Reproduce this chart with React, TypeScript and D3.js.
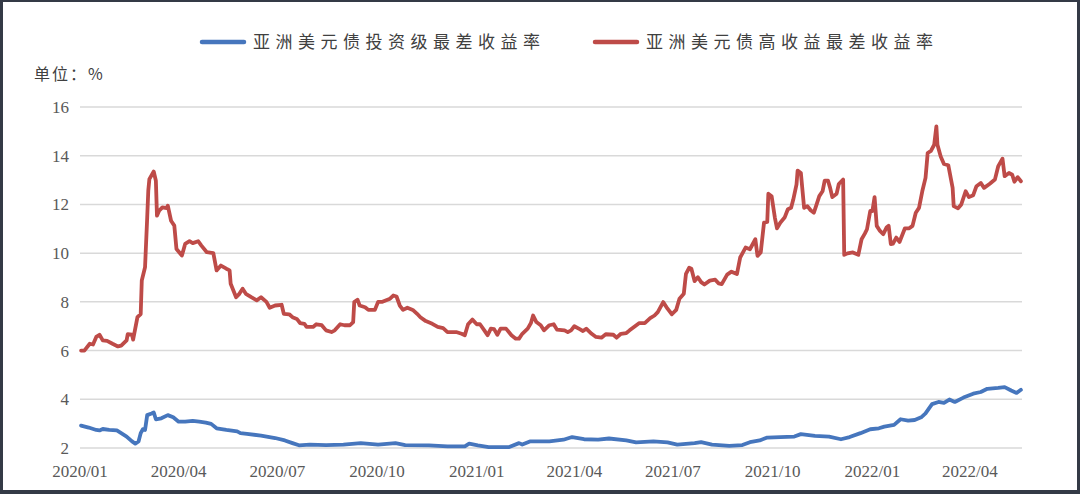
import React, { useEffect, useRef } from 'react';
import * as d3 from 'd3';

const legendLabels = ['亚洲美元债投资级最差收益率', '亚洲美元债高收益最差收益率'];
const seriesColors = ['#4676bd', '#be4b48'];
const unitLabel = '单位：%';
const yTicks = [2, 4, 6, 8, 10, 12, 14, 16];
const xTickDates = ['2020-01-01', '2020-04-01', '2020-07-01', '2020-10-01', '2021-01-01', '2021-04-01', '2021-07-01', '2021-10-01', '2022-01-01', '2022-04-01'];

// investment grade yield to worst (%)
const igSeries: [string, number][] = [
  ['2020-01-02', 2.92], ['2020-01-09', 2.84], ['2020-01-16', 2.74], ['2020-01-19', 2.72], ['2020-01-22', 2.78],
  ['2020-01-28', 2.74], ['2020-02-04', 2.72], ['2020-02-08', 2.61], ['2020-02-13', 2.47], ['2020-02-18', 2.27],
  ['2020-02-21', 2.18], ['2020-02-24', 2.27], ['2020-02-26', 2.61], ['2020-02-28', 2.77], ['2020-03-01', 2.74],
  ['2020-03-03', 3.35], ['2020-03-07', 3.42], ['2020-03-09', 3.46], ['2020-03-11', 3.18], ['2020-03-16', 3.22],
  ['2020-03-22', 3.35], ['2020-03-27', 3.26], ['2020-04-01', 3.08], ['2020-04-07', 3.08], ['2020-04-14', 3.11],
  ['2020-04-20', 3.08], ['2020-04-26', 3.04], ['2020-05-01', 2.99], ['2020-05-06', 2.81], ['2020-05-15', 2.74],
  ['2020-05-25', 2.68], ['2020-05-28', 2.61], ['2020-06-03', 2.58], ['2020-06-16', 2.51], ['2020-06-29', 2.41],
  ['2020-07-08', 2.31], ['2020-07-15', 2.2], ['2020-07-21', 2.11], ['2020-07-31', 2.14], ['2020-08-15', 2.12],
  ['2020-08-31', 2.14], ['2020-09-16', 2.2], ['2020-10-02', 2.14], ['2020-10-18', 2.2], ['2020-10-27', 2.12],
  ['2020-11-18', 2.11], ['2020-12-05', 2.07], ['2020-12-21', 2.07], ['2020-12-25', 2.18], ['2021-01-02', 2.11],
  ['2021-01-12', 2.04], ['2021-01-31', 2.04], ['2021-02-09', 2.2], ['2021-02-12', 2.14], ['2021-02-19', 2.27],
  ['2021-02-28', 2.27], ['2021-03-09', 2.27], ['2021-03-22', 2.34], ['2021-03-30', 2.45], ['2021-04-10', 2.36],
  ['2021-04-23', 2.34], ['2021-05-03', 2.39], ['2021-05-19', 2.31], ['2021-05-28', 2.23], ['2021-06-13', 2.27],
  ['2021-06-26', 2.23], ['2021-07-05', 2.14], ['2021-07-21', 2.2], ['2021-07-27', 2.24], ['2021-08-06', 2.14],
  ['2021-08-22', 2.09], ['2021-09-03', 2.12], ['2021-09-10', 2.24], ['2021-09-19', 2.31], ['2021-09-26', 2.43],
  ['2021-10-08', 2.45], ['2021-10-21', 2.47], ['2021-10-27', 2.57], ['2021-11-09', 2.5], ['2021-11-22', 2.47],
  ['2021-12-03', 2.36], ['2021-12-11', 2.45], ['2021-12-21', 2.61], ['2021-12-30', 2.77], ['2022-01-07', 2.81],
  ['2022-01-12', 2.88], ['2022-01-21', 2.95], ['2022-01-27', 3.18], ['2022-02-03', 3.12], ['2022-02-09', 3.15],
  ['2022-02-15', 3.26], ['2022-02-19', 3.42], ['2022-02-25', 3.8], ['2022-03-03', 3.89], ['2022-03-08', 3.85],
  ['2022-03-13', 3.99], ['2022-03-18', 3.89], ['2022-03-26', 4.07], ['2022-04-04', 4.23], ['2022-04-11', 4.3],
  ['2022-04-17', 4.43], ['2022-04-27', 4.47], ['2022-05-03', 4.5], ['2022-05-09', 4.36], ['2022-05-14', 4.26],
  ['2022-05-18', 4.39],
];

// high yield yield to worst (%)
const hySeries: [string, number][] = [
  ['2020-01-02', 6.0], ['2020-01-05', 6.0], ['2020-01-10', 6.28], ['2020-01-13', 6.25], ['2020-01-16', 6.56],
  ['2020-01-19', 6.65], ['2020-01-22', 6.42], ['2020-01-26', 6.4], ['2020-01-31', 6.28], ['2020-02-05', 6.17],
  ['2020-02-08', 6.2], ['2020-02-13', 6.42], ['2020-02-14', 6.67], ['2020-02-18', 6.65], ['2020-02-19', 6.45],
  ['2020-02-23', 7.37], ['2020-02-26', 7.5], ['2020-02-27', 8.88], ['2020-03-01', 9.42], ['2020-03-03', 11.47],
  ['2020-03-04', 12.56], ['2020-03-05', 13.04], ['2020-03-09', 13.35], ['2020-03-11', 12.97], ['2020-03-12', 11.54],
  ['2020-03-14', 11.74], ['2020-03-17', 11.88], ['2020-03-21', 11.85], ['2020-03-22', 11.95], ['2020-03-25', 11.33],
  ['2020-03-28', 11.13], ['2020-03-30', 10.17], ['2020-04-04', 9.9], ['2020-04-07', 10.38], ['2020-04-11', 10.49],
  ['2020-04-14', 10.41], ['2020-04-19', 10.49], ['2020-04-22', 10.31], ['2020-04-27', 10.04], ['2020-05-03', 10.0],
  ['2020-05-06', 9.29], ['2020-05-10', 9.49], ['2020-05-15', 9.36], ['2020-05-18', 9.29], ['2020-05-19', 8.74],
  ['2020-05-24', 8.19], ['2020-05-27', 8.33], ['2020-05-30', 8.54], ['2020-06-02', 8.33], ['2020-06-07', 8.19],
  ['2020-06-12', 8.06], ['2020-06-16', 8.19], ['2020-06-21', 8.0], ['2020-06-24', 7.76], ['2020-06-29', 7.85],
  ['2020-07-05', 7.88], ['2020-07-07', 7.51], ['2020-07-12', 7.49], ['2020-07-15', 7.37], ['2020-07-19', 7.3],
  ['2020-07-22', 7.13], ['2020-07-26', 7.1], ['2020-07-28', 6.97], ['2020-08-03', 6.97], ['2020-08-06', 7.08],
  ['2020-08-11', 7.04], ['2020-08-15', 6.83], ['2020-08-20', 6.76], ['2020-08-23', 6.83], ['2020-08-28', 7.08],
  ['2020-09-01', 7.04], ['2020-09-06', 7.04], ['2020-09-09', 7.17], ['2020-09-10', 7.99], ['2020-09-13', 8.09],
  ['2020-09-15', 7.85], ['2020-09-20', 7.78], ['2020-09-23', 7.67], ['2020-09-29', 7.67], ['2020-10-02', 8.0],
  ['2020-10-06', 8.0], ['2020-10-13', 8.13], ['2020-10-16', 8.26], ['2020-10-19', 8.22], ['2020-10-22', 7.85],
  ['2020-10-25', 7.67], ['2020-10-29', 7.76], ['2020-11-03', 7.67], ['2020-11-07', 7.51], ['2020-11-10', 7.37],
  ['2020-11-15', 7.21], ['2020-11-21', 7.1], ['2020-11-26', 6.97], ['2020-12-01', 6.92], ['2020-12-05', 6.76],
  ['2020-12-13', 6.76], ['2020-12-18', 6.69], ['2020-12-21', 6.63], ['2020-12-24', 7.08], ['2020-12-28', 7.27],
  ['2021-01-01', 7.08], ['2021-01-04', 7.08], ['2021-01-08', 6.83], ['2021-01-11', 6.63], ['2021-01-14', 6.9],
  ['2021-01-17', 6.88], ['2021-01-20', 6.65], ['2021-01-23', 6.9], ['2021-01-28', 6.9], ['2021-02-02', 6.63],
  ['2021-02-06', 6.49], ['2021-02-09', 6.49], ['2021-02-12', 6.69], ['2021-02-17', 6.9], ['2021-02-20', 7.13],
  ['2021-02-22', 7.44], ['2021-02-25', 7.17], ['2021-03-01', 7.04], ['2021-03-04', 6.83], ['2021-03-09', 7.04],
  ['2021-03-13', 7.08], ['2021-03-16', 6.86], ['2021-03-23', 6.83], ['2021-03-26', 6.76], ['2021-03-29', 6.83],
  ['2021-04-01', 7.0], ['2021-04-06', 6.88], ['2021-04-09', 6.8], ['2021-04-12', 6.9], ['2021-04-17', 6.69],
  ['2021-04-21', 6.56], ['2021-04-26', 6.53], ['2021-04-30', 6.67], ['2021-05-07', 6.65], ['2021-05-10', 6.53],
  ['2021-05-14', 6.69], ['2021-05-19', 6.72], ['2021-05-22', 6.83], ['2021-05-27', 7.0], ['2021-05-31', 7.13],
  ['2021-06-05', 7.13], ['2021-06-10', 7.33], ['2021-06-14', 7.44], ['2021-06-17', 7.58], ['2021-06-22', 7.99],
  ['2021-06-26', 7.72], ['2021-06-30', 7.49], ['2021-07-04', 7.67], ['2021-07-07', 8.13], ['2021-07-11', 8.33],
  ['2021-07-13', 9.15], ['2021-07-16', 9.4], ['2021-07-18', 9.36], ['2021-07-21', 8.85], ['2021-07-24', 9.01],
  ['2021-07-27', 8.81], ['2021-07-30', 8.71], ['2021-08-04', 8.87], ['2021-08-09', 8.91], ['2021-08-12', 8.76],
  ['2021-08-15', 8.73], ['2021-08-20', 9.12], ['2021-08-24', 9.24], ['2021-08-29', 9.14], ['2021-09-01', 9.82],
  ['2021-09-06', 10.23], ['2021-09-10', 10.16], ['2021-09-15', 10.57], ['2021-09-17', 9.89], ['2021-09-20', 10.03],
  ['2021-09-23', 11.25], ['2021-09-26', 11.28], ['2021-09-27', 12.44], ['2021-09-30', 12.34], ['2021-10-03', 11.46],
  ['2021-10-05', 11.02], ['2021-10-08', 11.25], ['2021-10-12', 11.46], ['2021-10-15', 11.8], ['2021-10-18', 11.86],
  ['2021-10-20', 12.2], ['2021-10-23', 12.82], ['2021-10-24', 13.39], ['2021-10-27', 13.29], ['2021-10-30', 11.86],
  ['2021-11-02', 11.93], ['2021-11-05', 11.76], ['2021-11-08', 11.66], ['2021-11-10', 11.93], ['2021-11-13', 12.34],
  ['2021-11-16', 12.54], ['2021-11-18', 12.98], ['2021-11-21', 12.98], ['2021-11-23', 12.68], ['2021-11-25', 12.3],
  ['2021-11-29', 12.44], ['2021-12-01', 12.84], ['2021-12-05', 13.02], ['2021-12-06', 9.93], ['2021-12-09', 9.99],
  ['2021-12-14', 10.03], ['2021-12-19', 9.93], ['2021-12-22', 10.57], ['2021-12-25', 10.8], ['2021-12-27', 10.98],
  ['2021-12-30', 11.73], ['2022-01-01', 11.73], ['2022-01-03', 12.3], ['2022-01-05', 11.12], ['2022-01-08', 10.91],
  ['2022-01-11', 10.78], ['2022-01-14', 11.05], ['2022-01-16', 11.12], ['2022-01-18', 10.37], ['2022-01-20', 10.39],
  ['2022-01-23', 10.64], ['2022-01-26', 10.46], ['2022-01-31', 11.02], ['2022-02-04', 11.02], ['2022-02-07', 11.12],
  ['2022-02-10', 11.66], ['2022-02-13', 11.86], ['2022-02-16', 12.54], ['2022-02-19', 13.09], ['2022-02-21', 14.11],
  ['2022-02-24', 14.2], ['2022-02-27', 14.45], ['2022-03-01', 15.2], ['2022-03-02', 14.45], ['2022-03-05', 13.97],
  ['2022-03-08', 13.66], ['2022-03-12', 13.61], ['2022-03-16', 12.68], ['2022-03-17', 11.93], ['2022-03-21', 11.84],
  ['2022-03-24', 12.0], ['2022-03-28', 12.54], ['2022-03-31', 12.3], ['2022-04-04', 12.38], ['2022-04-07', 12.75],
  ['2022-04-11', 12.88], ['2022-04-14', 12.68], ['2022-04-19', 12.84], ['2022-04-24', 13.02], ['2022-04-27', 13.56],
  ['2022-05-01', 13.88], ['2022-05-03', 13.16], ['2022-05-07', 13.29], ['2022-05-10', 13.22], ['2022-05-12', 12.93],
  ['2022-05-15', 13.12], ['2022-05-18', 12.95],
];

const parseDate = d3.timeParse('%Y-%m-%d');

const App: React.FC = () => {
  const chartRef = useRef<SVGSVGElement>(null);

  useEffect(() => {
    if (!chartRef.current) return;

    const width = 1080;
    const height = 494;
    const plot = { left: 80, right: 1022, top: 107, bottom: 448 };

    d3.select(chartRef.current).selectAll('*').remove();

    const svg = d3.select(chartRef.current)
      .attr('width', width)
      .attr('height', height);

    // dark frame round the picture
    svg.append('rect')
      .attr('width', width).attr('height', height)
      .attr('fill', '#343a46');
    svg.append('rect')
      .attr('x', 3).attr('y', 2)
      .attr('width', 1074).attr('height', 488)
      .attr('fill', '#ffffff');

    const xScale = d3.scaleTime()
      .domain([parseDate('2020-01-01')!, parseDate('2022-05-19')!])
      .range([plot.left, plot.right]);

    const yScale = d3.scaleLinear()
      .domain([2, 16])
      .range([plot.bottom, plot.top]);

    // gridlines
    svg.append('g')
      .selectAll('line')
      .data(yTicks)
      .enter().append('line')
      .attr('x1', plot.left)
      .attr('x2', plot.right)
      .attr('y1', d => yScale(d))
      .attr('y2', d => yScale(d))
      .attr('stroke', '#d9d9d9')
      .attr('stroke-width', 1.5);

    // y labels
    svg.append('g')
      .selectAll('text')
      .data(yTicks)
      .enter().append('text')
      .attr('x', 69)
      .attr('y', d => yScale(d))
      .attr('dy', '0.35em')
      .attr('text-anchor', 'end')
      .attr('fill', '#595959')
      .attr('font-family', '"Liberation Serif", serif')
      .attr('font-size', '17px')
      .text(d => d);

    // x labels
    const fmt = d3.timeFormat('%Y/%m');
    svg.append('g')
      .selectAll('text')
      .data(xTickDates)
      .enter().append('text')
      .attr('x', d => xScale(parseDate(d)!))
      .attr('y', 477)
      .attr('text-anchor', 'middle')
      .attr('fill', '#595959')
      .attr('font-family', '"Liberation Serif", serif')
      .attr('font-size', '17px')
      .text(d => fmt(parseDate(d)!));

    // unit label
    svg.append('text')
      .attr('x', 34)
      .attr('y', 80)
      .attr('fill', '#404040')
      .attr('font-family', '"Noto Sans CJK SC", sans-serif')
      .attr('font-size', '16px')
      .attr('letter-spacing', '2px')
      .text(unitLabel);

    const line = d3.line<[string, number]>()
      .x(d => xScale(parseDate(d[0])!))
      .y(d => yScale(d[1]));

    [igSeries, hySeries].forEach((series, i) => {
      svg.append('path')
        .datum(series)
        .attr('fill', 'none')
        .attr('stroke', seriesColors[i])
        .attr('stroke-width', 3.8)
        .attr('stroke-linejoin', 'round')
        .attr('stroke-linecap', 'round')
        .attr('d', line);
    });

    // legend
    const legendX = [202, 595];
    const legend = svg.append('g')
      .selectAll('g')
      .data(legendLabels)
      .enter().append('g')
      .attr('transform', (d, i) => `translate(${legendX[i]},42)`);
    legend.append('line')
      .attr('x1', 0).attr('x2', 42)
      .attr('stroke', (d, i) => seriesColors[i])
      .attr('stroke-width', 4.5)
      .attr('stroke-linecap', 'round');
    legend.append('text')
      .attr('x', 51)
      .attr('dy', '0.36em')
      .attr('fill', '#404040')
      .attr('font-family', '"Noto Sans CJK SC", sans-serif')
      .attr('font-size', '17px')
      .attr('letter-spacing', '5.5px')
      .text(d => d);
  }, []);

  return (
    <div style={{ position: 'absolute', left: 0, top: 0 }}>
      <svg ref={chartRef} style={{ display: 'block' }}></svg>
    </div>
  );
};

export default App;
